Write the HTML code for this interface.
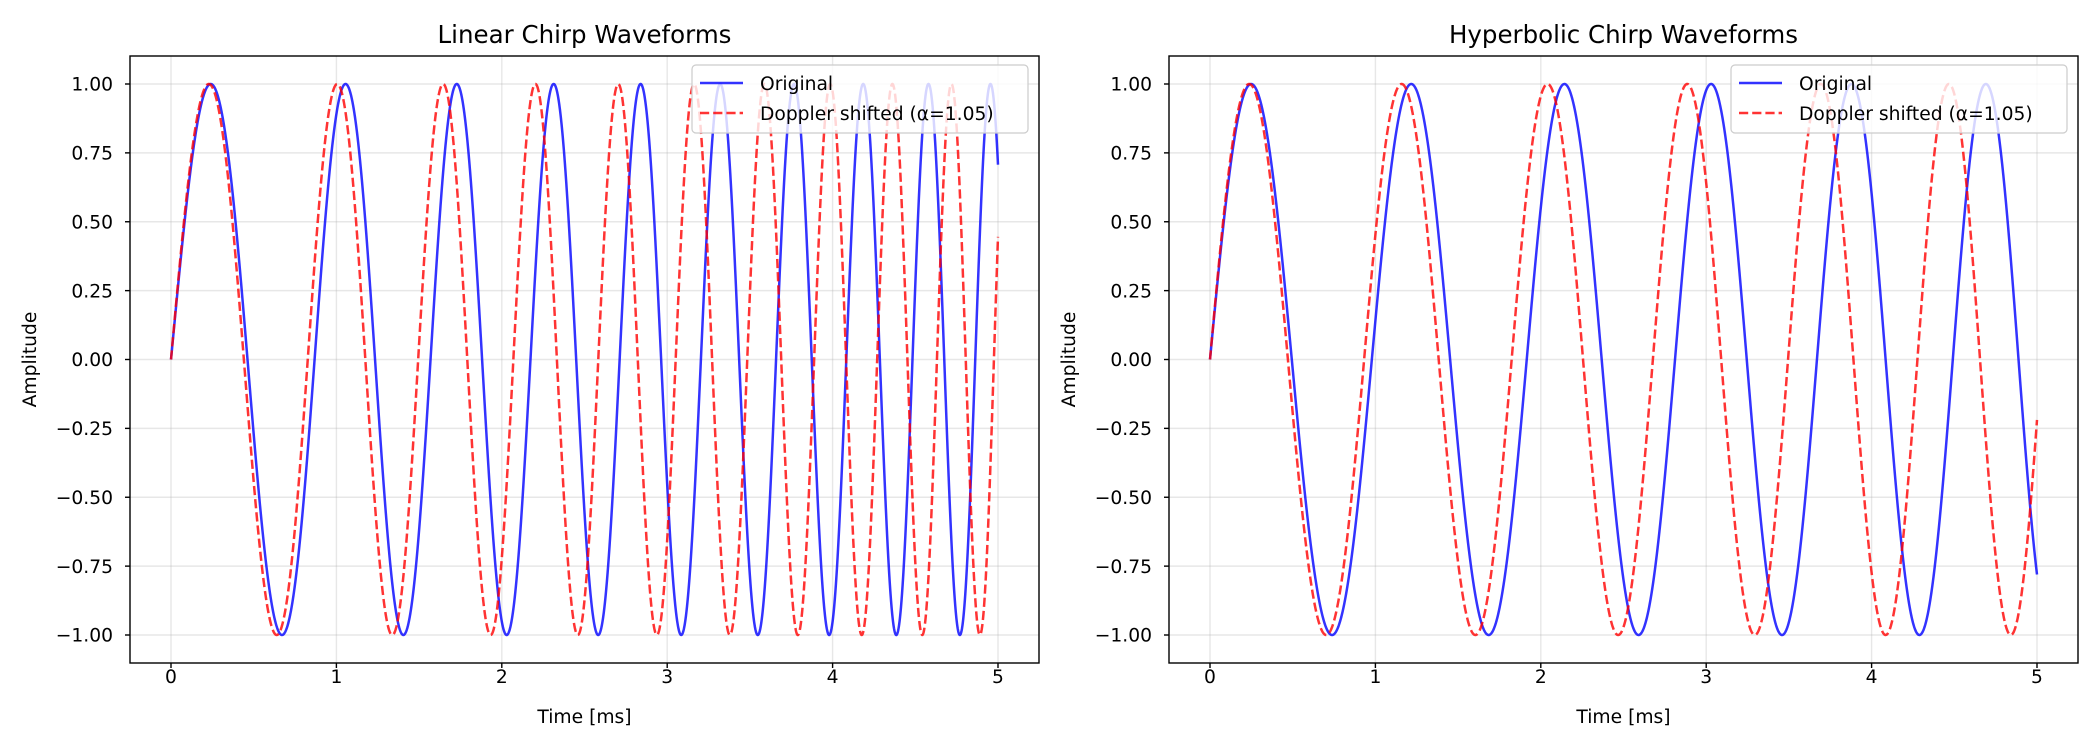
<!DOCTYPE html>
<html><head><meta charset="utf-8"><style>
html,body{margin:0;padding:0;background:#fff;}
svg text{font-family:"DejaVu Sans","Liberation Sans",sans-serif;fill:#000;}
</style></head><body>
<svg id="s" width="2100" height="750" xmlns="http://www.w3.org/2000/svg"></svg>
<script>
const S=document.getElementById('s');let h='';
function lin(t){return Math.sin(2*Math.PI*(t+0.175*t*t));}
const K=6.4/0.28;
function hyp(t){return Math.sin(2*Math.PI*(K*(-Math.log(1-t/K))));}
const panels=[{L:130,R:1039,x0:171,f:lin,title:'Linear Chirp Waveforms'},{L:1169,R:2078,x0:1210,f:hyp,title:'Hyperbolic Chirp Waveforms'}];
const T=56,B=663,sx=165.4,y0=359.5,sy=275.5;
for(const p of panels){
  const cx=(p.L+p.R)/2;
  h+=`<text x="${cx}" y="43" font-size="24.5" text-anchor="middle">${p.title}</text>`;
  for(let k=0;k<=5;k++){const x=p.x0+sx*k;h+=`<line x1="${x}" y1="${T}" x2="${x}" y2="${B}" stroke="#b0b0b0" stroke-opacity="0.3" stroke-width="1.4"/>`;
    h+=`<line x1="${x}" y1="${B}" x2="${x}" y2="${B+5}" stroke="#000" stroke-width="1.4"/><text x="${x}" y="683" font-size="18.7" text-anchor="middle">${k}</text>`;}
  for(let i=-4;i<=4;i++){const v=i*0.25;const y=y0-sy*v;h+=`<line x1="${p.L}" y1="${y}" x2="${p.R}" y2="${y}" stroke="#b0b0b0" stroke-opacity="0.3" stroke-width="1.4"/>`;
    h+=`<line x1="${p.L-5}" y1="${y}" x2="${p.L}" y2="${y}" stroke="#000" stroke-width="1.4"/><text x="${p.L-17}" y="${y+6.7}" font-size="18.7" text-anchor="end">${(v<0?'\u2212':'')+Math.abs(v).toFixed(2)}</text>`;}
  let a='',b='';
  for(let i=0;i<=3000;i++){const t=5*i/3000;const x=(p.x0+sx*t).toFixed(2);
    a+=(i?'L':'M')+x+','+(y0-sy*p.f(t)).toFixed(2);
    b+=(i?'L':'M')+x+','+(y0-sy*p.f(1.05*t)).toFixed(2);}
  h+=`<path d="${a}" fill="none" stroke="#0000ff" stroke-opacity="0.8" stroke-width="2.5"/>`;
  h+=`<path d="${b}" fill="none" stroke="#ff0000" stroke-opacity="0.8" stroke-width="2.5" stroke-dasharray="9.2,4"/>`;
  h+=`<rect x="${p.L}" y="${T}" width="${p.R-p.L}" height="${B-T}" fill="none" stroke="#000" stroke-width="1.4"/>`;
  h+=`<text x="${cx}" y="723" font-size="18.7" text-anchor="middle">Time [ms]</text>`;
  h+=`<text transform="translate(${p.L-94},${(T+B)/2}) rotate(-90)" font-size="18.7" text-anchor="middle">Amplitude</text>`;
  const lx=p.R-11-336;
  h+=`<rect x="${lx}" y="65" width="336" height="68" rx="4" fill="#fff" fill-opacity="0.8" stroke="#cccccc" stroke-width="1.2"/>`;
  h+=`<line x1="${lx+8}" y1="83" x2="${lx+51}" y2="83" stroke="#0000ff" stroke-opacity="0.8" stroke-width="2.5"/>`;
  h+=`<line x1="${lx+8}" y1="113" x2="${lx+51}" y2="113" stroke="#ff0000" stroke-opacity="0.8" stroke-width="2.5" stroke-dasharray="9.2,4"/>`;
  h+=`<text x="${lx+68}" y="90" font-size="18.7">Original</text>`;
  h+=`<text x="${lx+68}" y="120" font-size="18.7">Doppler shifted (\u03b1=1.05)</text>`;
}
S.innerHTML=h;
</script>
</body></html>
